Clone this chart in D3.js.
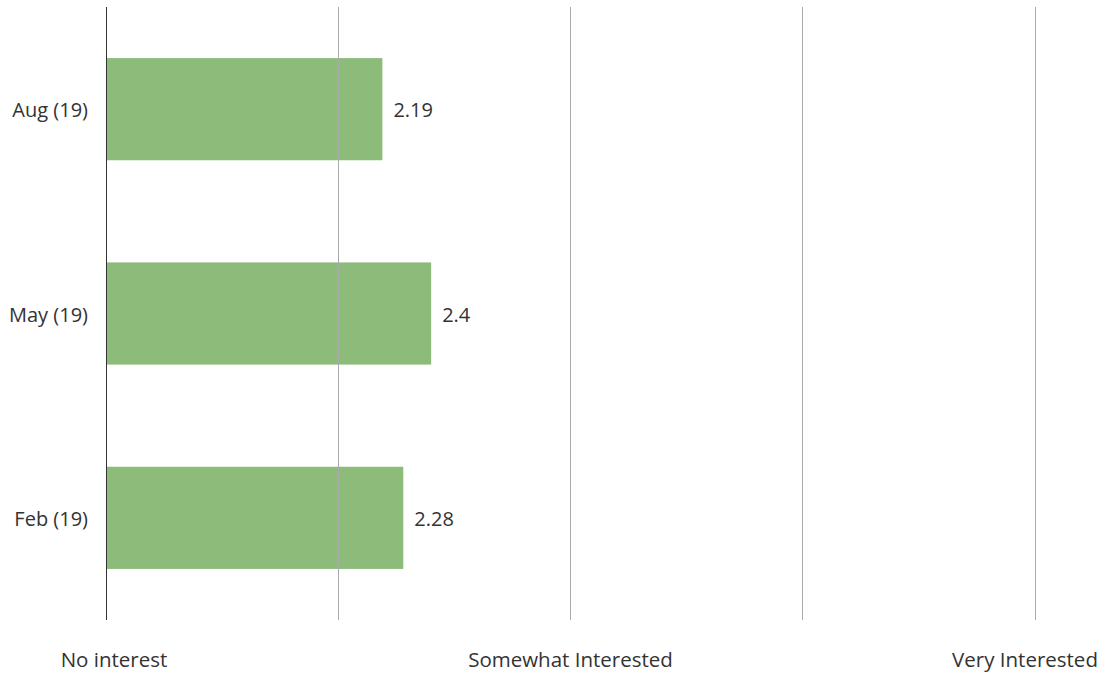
<!DOCTYPE html>
<html><head><meta charset="utf-8">
<script src="https://cdn.jsdelivr.net/npm/d3@7"></script>
<style>body{margin:0;background:#fff}svg{display:block}text{font-family:"Open Sans",sans-serif;fill:#333}</style>
</head><body><svg id="c" width="1106" height="675"></svg>
<script>
const categories = ["Aug (19)", "May (19)", "Feb (19)"];
const values = [2.19, 2.4, 2.28];
const gridTicks = [1, 2, 3, 4, 5];
const scaleLabels = [{v: 1, t: "No interest"}, {v: 3, t: "Somewhat Interested"}, {v: 5, t: "Very Interested"}];

const W = 1106, H = 675;
const m = {left: 106, right: 71, top: 7, bottom: 55};
const svg = d3.select("#c");
const x = d3.scaleLinear().domain([1, 5]).range([m.left, W - m.right]);
const y = d3.scaleBand().domain(categories).range([m.top, H - m.bottom]).paddingInner(0.5).paddingOuter(0.25);

svg.append("g").selectAll("rect").data(categories).join("rect")
  .attr("x", x(1)).attr("y", d => y(d)).attr("height", y.bandwidth())
  .attr("width", (d, i) => x(values[i]) - x(1))
  .attr("fill", "rgb(112,170,88)").attr("fill-opacity", 0.8);

svg.append("g").selectAll("line").data(gridTicks.slice(1)).join("line")
  .attr("x1", d => x(d)).attr("x2", d => x(d)).attr("y1", m.top).attr("y2", H - m.bottom)
  .attr("stroke", "#aaa").attr("stroke-width", 1).attr("shape-rendering", "crispEdges");

svg.append("line").attr("x1", x(1)).attr("x2", x(1)).attr("y1", m.top).attr("y2", H - m.bottom)
  .attr("stroke", "#333").attr("stroke-width", 1).attr("shape-rendering", "crispEdges");

svg.append("g").selectAll("text").data(categories).join("text")
  .attr("x", x(1) - 18).attr("y", d => y(d) + y.bandwidth() / 2 + 1).attr("dy", "0.35em")
  .attr("text-anchor", "end").attr("font-size", 20).text(d => d);

svg.append("g").selectAll("text").data(categories).join("text")
  .attr("x", (d, i) => x(values[i]) + 11).attr("y", d => y(d) + y.bandwidth() / 2 + 1).attr("dy", "0.35em")
  .attr("font-size", 20).text((d, i) => values[i]);

svg.append("g").selectAll("text").data(scaleLabels).join("text")
  .attr("x", d => d.v === 1 ? x(d.v) + 8 : d.v === 5 ? x(d.v) - 10 : x(d.v))
  .attr("y", 660).attr("dy", "0.35em").attr("text-anchor", "middle")
  .attr("font-size", 20.5).text(d => d.t);
</script></body></html>
